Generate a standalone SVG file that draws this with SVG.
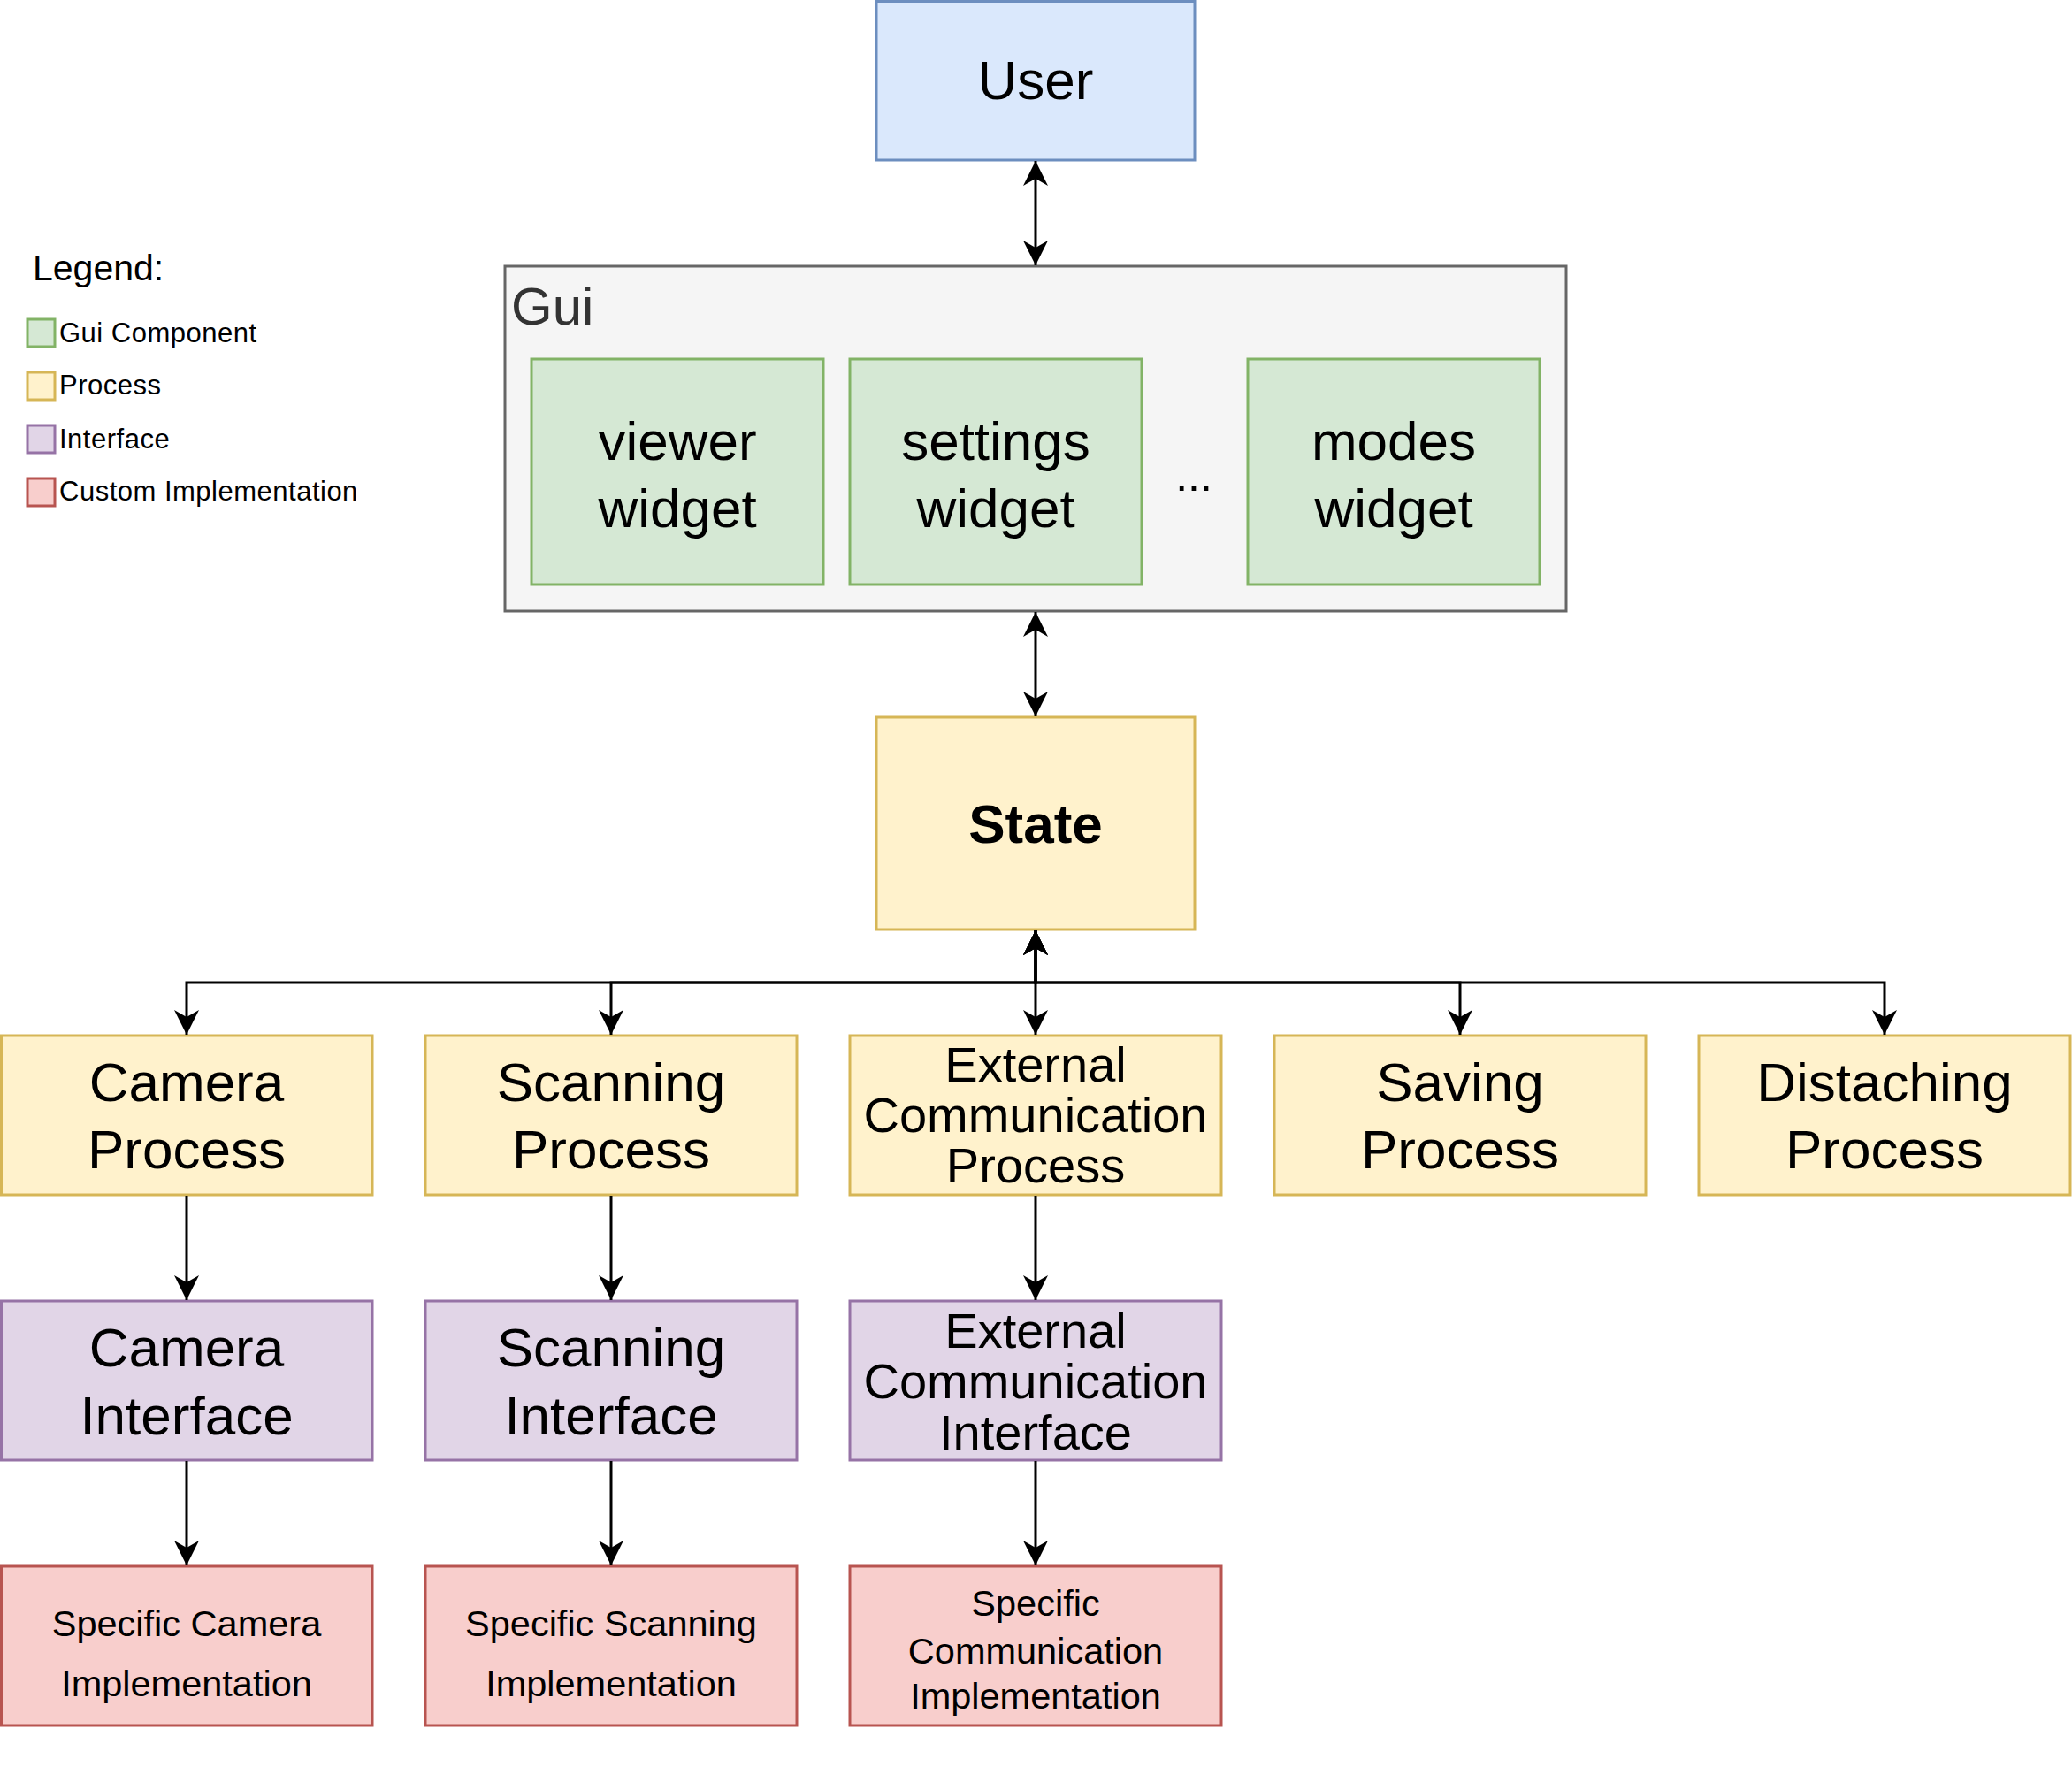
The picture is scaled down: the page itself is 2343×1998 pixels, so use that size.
<svg xmlns="http://www.w3.org/2000/svg" width="2343" height="1998" viewBox="0 0 2343 1998">
<style>
text{font-family:"Liberation Sans",Arial,Helvetica,sans-serif;fill:#000}
.c{text-anchor:middle}
.big{font-size:62px}
.mid{font-size:56px}
.sm{font-size:41.5px}
.leg{font-size:31px;letter-spacing:0.5px}
.green{fill:#d5e8d4;stroke:#82b366;stroke-width:3}
.yellow{fill:#fff2cc;stroke:#d6b656;stroke-width:3}
.purple{fill:#e1d5e7;stroke:#9673a6;stroke-width:3}
.red{fill:#f8cecc;stroke:#b85450;stroke-width:3}
.blue{fill:#dae8fc;stroke:#6c8ebf;stroke-width:3}
.gray{fill:#f5f5f5;stroke:#666666;stroke-width:3}
.edge{fill:none;stroke:#000;stroke-width:3}
</style>
<defs>
<marker id="arr" viewBox="0 0 28 28" refX="28" refY="14" markerWidth="28" markerHeight="28" markerUnits="userSpaceOnUse" orient="auto-start-reverse">
<path d="M0,0 L28,14 L0,28 L8,14 Z" fill="#000"/>
</marker>
</defs>
<rect width="2343" height="1998" fill="#fff"/>

<g id="legend">
<text x="37" y="317" style="font-size:41px">Legend:</text>
<rect x="31" y="361" width="31" height="31" class="green"/>
<text x="67" y="387" class="leg">Gui Component</text>
<rect x="31" y="421" width="31" height="31" class="yellow"/>
<text x="67" y="446" class="leg">Process</text>
<rect x="31" y="481" width="31" height="31" class="purple"/>
<text x="67" y="507" class="leg">Interface</text>
<rect x="31" y="541" width="31" height="31" class="red"/>
<text x="67" y="566" class="leg">Custom Implementation</text>
</g>

<g id="user">
<rect x="991" y="1.5" width="360" height="179.5" class="blue"/>
<text x="1171" y="112" class="c big">User</text>
</g>

<g id="gui">
<rect x="571" y="301" width="1200" height="390" class="gray"/>
<text x="578" y="367" style="font-size:60px;fill:#333333">Gui</text>
</g>
<g id="viewer-widget">
<rect x="601" y="406" width="330" height="255" class="green"/>
<text x="766" y="520" class="c big">viewer</text>
<text x="766" y="596" class="c big">widget</text>
</g>
<g id="settings-widget">
<rect x="961" y="406" width="330" height="255" class="green"/>
<text x="1126" y="520" class="c big">settings</text>
<text x="1126" y="596" class="c big">widget</text>
</g>
<g id="ellipsis">
<text x="1350" y="555" class="c" style="font-size:50px">...</text>
</g>
<g id="modes-widget">
<rect x="1411" y="406" width="330" height="255" class="green"/>
<text x="1576" y="520" class="c big">modes</text>
<text x="1576" y="596" class="c big">widget</text>
</g>

<g id="state">
<rect x="991" y="811" width="360" height="240" class="yellow"/>
<text x="1171" y="953" class="c big" font-weight="bold">State</text>
</g>

<g id="camera-process">
<rect x="1.5" y="1171" width="419.5" height="180" class="yellow"/>
<text x="211" y="1245" class="c big">Camera</text>
<text x="211" y="1321" class="c big">Process</text>
</g>
<g id="scanning-process">
<rect x="481" y="1171" width="420" height="180" class="yellow"/>
<text x="691" y="1245" class="c big">Scanning</text>
<text x="691" y="1321" class="c big">Process</text>
</g>
<g id="external-communication-process">
<rect x="961" y="1171" width="420" height="180" class="yellow"/>
<text x="1171" y="1223" class="c mid">External</text>
<text x="1171" y="1280" class="c mid">Communication</text>
<text x="1171" y="1337" class="c mid">Process</text>
</g>
<g id="saving-process">
<rect x="1441" y="1171" width="420" height="180" class="yellow"/>
<text x="1651" y="1245" class="c big">Saving</text>
<text x="1651" y="1321" class="c big">Process</text>
</g>
<g id="distaching-process">
<rect x="1921" y="1171" width="420" height="180" class="yellow"/>
<text x="2131" y="1245" class="c big">Distaching</text>
<text x="2131" y="1321" class="c big">Process</text>
</g>

<g id="camera-interface">
<rect x="1.5" y="1471" width="419.5" height="180" class="purple"/>
<text x="211" y="1545" class="c big">Camera</text>
<text x="211" y="1622" class="c big">Interface</text>
</g>
<g id="scanning-interface">
<rect x="481" y="1471" width="420" height="180" class="purple"/>
<text x="691" y="1545" class="c big">Scanning</text>
<text x="691" y="1622" class="c big">Interface</text>
</g>
<g id="external-communication-interface">
<rect x="961" y="1471" width="420" height="180" class="purple"/>
<text x="1171" y="1524" class="c mid">External</text>
<text x="1171" y="1581" class="c mid">Communication</text>
<text x="1171" y="1639" class="c mid">Interface</text>
</g>

<g id="specific-camera-implementation">
<rect x="1.5" y="1771" width="419.5" height="180" class="red"/>
<text x="211" y="1850" class="c sm">Specific Camera</text>
<text x="211" y="1918" class="c sm">Implementation</text>
</g>
<g id="specific-scanning-implementation">
<rect x="481" y="1771" width="420" height="180" class="red"/>
<text x="691" y="1850" class="c sm">Specific Scanning</text>
<text x="691" y="1918" class="c sm">Implementation</text>
</g>
<g id="specific-communication-implementation">
<rect x="961" y="1771" width="420" height="180" class="red"/>
<text x="1171" y="1827" class="c sm">Specific</text>
<text x="1171" y="1881" class="c sm">Communication</text>
<text x="1171" y="1932" class="c sm">Implementation</text>
</g>

<g id="connectors">
<path d="M1171,182 V300" class="edge" marker-start="url(#arr)" marker-end="url(#arr)"/>
<path d="M1171,692 V810" class="edge" marker-start="url(#arr)" marker-end="url(#arr)"/>
<path d="M1171,1052 V1170" class="edge" marker-start="url(#arr)" marker-end="url(#arr)"/>
<path d="M1171,1052 V1111 H211 V1170" class="edge" marker-start="url(#arr)" marker-end="url(#arr)"/>
<path d="M1171,1052 V1111 H691 V1170" class="edge" marker-start="url(#arr)" marker-end="url(#arr)"/>
<path d="M1171,1052 V1111 H1651 V1170" class="edge" marker-start="url(#arr)" marker-end="url(#arr)"/>
<path d="M1171,1052 V1111 H2131 V1170" class="edge" marker-start="url(#arr)" marker-end="url(#arr)"/>
<path d="M211,1352 V1470" class="edge" marker-end="url(#arr)"/>
<path d="M691,1352 V1470" class="edge" marker-end="url(#arr)"/>
<path d="M1171,1352 V1470" class="edge" marker-end="url(#arr)"/>
<path d="M211,1652 V1770" class="edge" marker-end="url(#arr)"/>
<path d="M691,1652 V1770" class="edge" marker-end="url(#arr)"/>
<path d="M1171,1652 V1770" class="edge" marker-end="url(#arr)"/>
</g>
</svg>
